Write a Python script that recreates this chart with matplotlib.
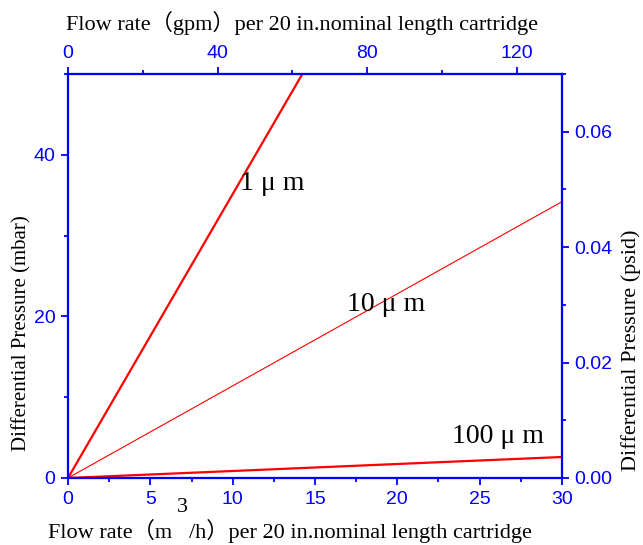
import matplotlib.pyplot as plt
from matplotlib.ticker import MultipleLocator

# flow rate (m3/h) and differential pressure (mbar) for each filter grade
flow = [0, 30]
dp_1um = [0, 105.4]
dp_10um = [0, 34.2]
dp_100um = [0, 2.6]

grades = ["1 μ m", "10 μ m", "100 μ m"]
label_pos = [(12.4, 36.4), (19.3, 21.5), (26.1, 5.1)]

gpm_max = 132.1
psid_max = 0.07

blue = "#0000ff"
serif = ["Liberation Serif", "Noto Sans CJK SC"]
sans = "Liberation Sans"
W, H = 643, 545

fig = plt.figure(figsize=(6.43, 5.45), dpi=100)
ax = fig.add_axes([68 / W, 1 - 478 / H, 494 / W, 404 / H])

ax.plot(flow, dp_1um, color="red", lw=1.6)
ax.plot(flow, dp_10um, color="red", lw=0.8)
ax.plot(flow, dp_100um, color="red", lw=1.6)

for g, (x, y) in zip(grades, label_pos):
    ax.text(x, y, g, fontsize=20, family=serif, ha="center", va="center")

ax.set_xlim(0, 30)
ax.set_ylim(0, 50)
ax.xaxis.set_major_locator(MultipleLocator(5))
ax.xaxis.set_minor_locator(MultipleLocator(2.5))
ax.yaxis.set_major_locator(MultipleLocator(20))
ax.yaxis.set_minor_locator(MultipleLocator(10))

axt = ax.twiny()
axt.set_xlim(0, gpm_max)
axt.xaxis.set_major_locator(MultipleLocator(40))
axt.xaxis.set_minor_locator(MultipleLocator(20))

axr = ax.twinx()
axr.set_ylim(0, psid_max)
axr.yaxis.set_major_locator(MultipleLocator(0.02))
axr.yaxis.set_minor_locator(MultipleLocator(0.01))
axr.yaxis.set_major_formatter(lambda v, p: f"{v:.2f}")

for a in (ax, axt, axr):
    for s in a.spines.values():
        s.set_color(blue)
        s.set_linewidth(1.5)
    a.tick_params(which="both", direction="out", color=blue, labelcolor=blue,
                  width=1.3, labelsize=14, pad=4)
    a.tick_params(which="major", length=5)
    a.tick_params(which="minor", length=3)
    for lab in a.get_xticklabels() + a.get_yticklabels():
        lab.set_family(sans)

def px(x, y):
    return x / W, 1 - y / H

fig.text(*px(22, 333), "Differential Pressure (mbar)", family=serif, fontsize=15,
         rotation=90, ha="center", va="center")
fig.text(*px(631, 350), "Differential Pressure (psid)", family=serif, fontsize=16,
         rotation=90, ha="center", va="center")
fig.text(*px(302, 23), "Flow rate（gpm）per 20 in.nominal length cartridge",
         family=serif, fontsize=16, ha="center", va="center")
fig.text(*px(290, 531), "Flow rate（m   /h）per 20 in.nominal length cartridge",
         family=serif, fontsize=16, ha="center", va="center")
fig.text(*px(182, 507), "3", family=serif, fontsize=16, ha="center", va="center")

fig.savefig("out.png", dpi=100)
